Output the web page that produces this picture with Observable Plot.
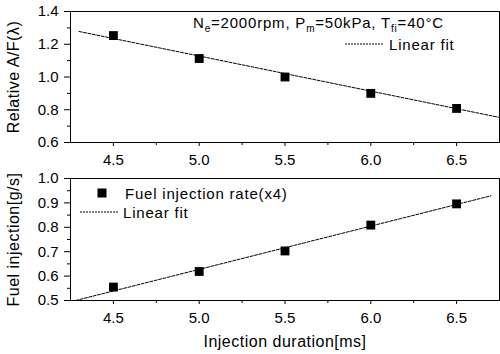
<!DOCTYPE html>
<html><head><meta charset="utf-8">
<script src="https://cdn.jsdelivr.net/npm/d3@7"></script>
<script src="https://cdn.jsdelivr.net/npm/@observablehq/plot@0.6"></script>
<style>
body{margin:0;background:#fff;}
#chart svg{display:block;}
</style></head><body><div id="chart"></div>
<script>
// ---- data ----
const duration = [4.5, 5.0, 5.5, 6.0, 6.5];
const relativeAF = [1.253, 1.113, 1.0, 0.90, 0.808];
const fuelRate = [0.555, 0.619, 0.703, 0.809, 0.896];
const afFitX = [4.3, 6.75];
const afFitY = [1.278, 0.753];
const fuelFitX = [4.28, 6.70];
const fuelFitY = [0.5, 0.929];
const xTicks = [4.5, 5.0, 5.5, 6.0, 6.5];
const xMinorTicks = [4.75, 5.25, 5.75, 6.25];
const afTicks = [0.6, 0.8, 1.0, 1.2, 1.4];
const afMinorTicks = [0.7, 0.9, 1.1, 1.3];
const fuelTicks = [0.5, 0.6, 0.7, 0.8, 0.9, 1.0];
const fuelMinorTicks = [0.55, 0.65, 0.75, 0.85, 0.95];
const xLabel = "Injection duration[ms]";
const afLabel = "Relative A/F(λ)";
const fuelLabel = "Fuel injection[g/s]";
const fitLabel = "Linear fit";
const fuelSeriesLabel = "Fuel injection rate(x4)";
// condition text parts: [text, isSubscript]
const conditionParts = [["N",0],["e",1],["=2000rpm, P",0],["m",1],["=50kPa, T",0],["fi",1],["=40°C",0]];

const FONT = "'Liberation Sans', Arial, sans-serif";
const fmt = d3.format(".1f");
const blank = () => "";

function panel({pts, fit, yDomain, yTicks, yMinor, yLabel, height, marginTop, marginBottom, showXLabel}) {
  return Plot.plot({
    width: 500, height, marginTop, marginBottom, marginLeft: 70, marginRight: 1,
    style: {fontFamily: FONT, fontSize: "15px", color: "black", background: "white"},
    x: {domain: [4.25, 6.75]},
    y: {domain: yDomain},
    marks: [
      Plot.frame({stroke: "black"}),
      Plot.axisX({ticks: xTicks, tickFormat: fmt, tickSize: 4, tickPadding: 8,
        label: showXLabel ? xLabel : null, labelAnchor: "center", labelOffset: 46, labelArrow: "none"}),
      Plot.axisX({ticks: xMinorTicks, tickFormat: blank, tickSize: 3, label: null}),
      Plot.axisY({ticks: yTicks, tickFormat: fmt, tickSize: 6, tickPadding: 6,
        label: yLabel, labelAnchor: "center", labelOffset: 63, labelArrow: "none"}),
      Plot.axisY({ticks: yMinor, tickFormat: blank, tickSize: 3, label: null}),
      Plot.line(fit, {x: "x", y: "y", stroke: "black", strokeWidth: 1, strokeDasharray: "3,1.5"}),
      Plot.dot(pts, {x: "x", y: "y", symbol: "square", r: 5, fill: "black", stroke: "none"})
    ]
  });
}

const afPts = duration.map((d, i) => ({x: d, y: relativeAF[i]}));
const afFit = afFitX.map((d, i) => ({x: d, y: afFitY[i]}));
const fuelPts = duration.map((d, i) => ({x: d, y: fuelRate[i]}));
const fuelFit = fuelFitX.map((d, i) => ({x: d, y: fuelFitY[i]}));

const topSvg = panel({pts: afPts, fit: afFit, yDomain: [0.6, 1.4], yTicks: afTicks, yMinor: afMinorTicks,
  yLabel: afLabel, height: 170, marginTop: 11, marginBottom: 28, showXLabel: false});
const botSvg = panel({pts: fuelPts, fit: fuelFit, yDomain: [0.5, 1.0], yTicks: fuelTicks, yMinor: fuelMinorTicks,
  yLabel: fuelLabel, height: 184, marginTop: 8, marginBottom: 54, showXLabel: true});

const chart = document.getElementById("chart");
chart.appendChild(topSvg);
chart.appendChild(botSvg);

// slightly larger axis titles, as in the reference
d3.selectAll('#chart [aria-label="x-axis label"], #chart [aria-label="y-axis label"]')
  .attr("font-size", 16).attr("letter-spacing", 0.5);

// ---- legends ----
const t = d3.select(topSvg).append("g").attr("font-family", FONT).attr("font-size", 15)
  .attr("fill", "black").attr("text-anchor", "start");
const cond = t.append("text").attr("x", 193).attr("y", 28).attr("letter-spacing", 0.8);
conditionParts.forEach(([s, sub], i) => {
  const prevSub = i > 0 && conditionParts[i-1][1];
  const ts = cond.append("tspan").text(s);
  if (sub) ts.attr("dy", 4).attr("font-size", 10);
  else if (prevSub) ts.attr("dy", -4);
});
t.append("line").attr("x1", 345).attr("x2", 383).attr("y1", 44).attr("y2", 44)
  .attr("stroke", "black").attr("stroke-dasharray", "2,1").attr("stroke-width", 1);
t.append("text").attr("x", 389).attr("y", 49.5).attr("letter-spacing", 0.8).text(fitLabel);

const b = d3.select(botSvg).append("g").attr("font-family", FONT).attr("font-size", 15)
  .attr("fill", "black").attr("text-anchor", "start");
b.append("rect").attr("x", 97.5).attr("y", 18.5).attr("width", 9).attr("height", 9).attr("fill", "black");
b.append("text").attr("x", 125).attr("y", 28.5).attr("letter-spacing", 0.8).text(fuelSeriesLabel);
b.append("line").attr("x1", 80).attr("x2", 118).attr("y1", 42).attr("y2", 42)
  .attr("stroke", "black").attr("stroke-dasharray", "2,1").attr("stroke-width", 1);
b.append("text").attr("x", 123).attr("y", 47.5).attr("letter-spacing", 0.8).text(fitLabel);
</script></body></html>
